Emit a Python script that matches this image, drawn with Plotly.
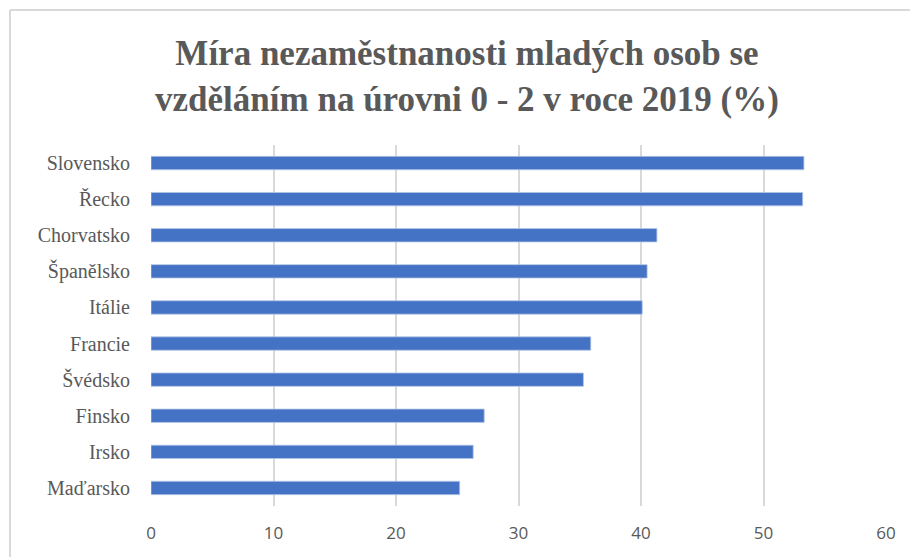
import plotly.graph_objects as go

countries = ["Slovensko", "Řecko", "Chorvatsko", "Španělsko", "Itálie",
             "Francie", "Švédsko", "Finsko", "Irsko", "Maďarsko"]
rates = [53.3, 53.2, 41.3, 40.5, 40.1, 35.9, 35.3, 27.2, 26.3, 25.2]
x_ticks = [0, 10, 20, 30, 40, 50, 60]

title_text = ("Míra nezaměstnanosti mladých osob se<br>"
              "vzděláním na úrovni 0 - 2 v roce 2019 (%)")

# the page body adds an 8px offset, so the figure is laid out with that in mind
W, H = 918, 557
ml, mt = 143, 137
pw, ph = 735, 361
mr, mb = W - ml - pw, H - mt - ph

fig = go.Figure(
    go.Bar(
        x=rates,
        y=countries,
        orientation="h",
        marker=dict(color="#4472C4", line=dict(color="#B4C7E7", width=0.8)),
        hoverinfo="x+y",
    )
)

# frame of the chart (top and left edges visible in the original)
bx = (2 - ml) / pw
by = (H - mb - 2) / ph
fig.add_shape(type="line", xref="paper", yref="paper",
              x0=bx, x1=(W - ml) / pw, y0=by, y1=by,
              line=dict(color="#D9D9D9", width=2))
fig.add_shape(type="line", xref="paper", yref="paper",
              x0=bx, x1=bx, y0=by, y1=-mb / ph,
              line=dict(color="#D9D9D9", width=2))

fig.update_layout(
    width=W,
    height=H,
    margin=dict(l=ml, r=mr, t=mt, b=mb),
    paper_bgcolor="white",
    plot_bgcolor="white",
    bargap=0.63,
    showlegend=False,
    title=dict(
        text=title_text,
        x=0.5,
        xref="container",
        xanchor="center",
        y=1 - 57 / H,
        yanchor="middle",
        font=dict(family="Liberation Serif", size=35, color="#595959",
                  weight="bold"),
    ),
    xaxis=dict(
        range=[0, 60],
        tickvals=x_ticks,
        showgrid=True,
        gridcolor="#D9D9D9",
        gridwidth=1.5,
        zeroline=False,
        showline=False,
        ticks="",
        ticklabelstandoff=15,
        tickfont=dict(family="Open Sans", size=17, color="#595959"),
    ),
    yaxis=dict(
        autorange="reversed",
        showgrid=False,
        ticks="",
        ticklabelstandoff=20,
        tickfont=dict(family="Liberation Serif", size=20, color="#595959"),
    ),
)

fig.write_html("out.html")
